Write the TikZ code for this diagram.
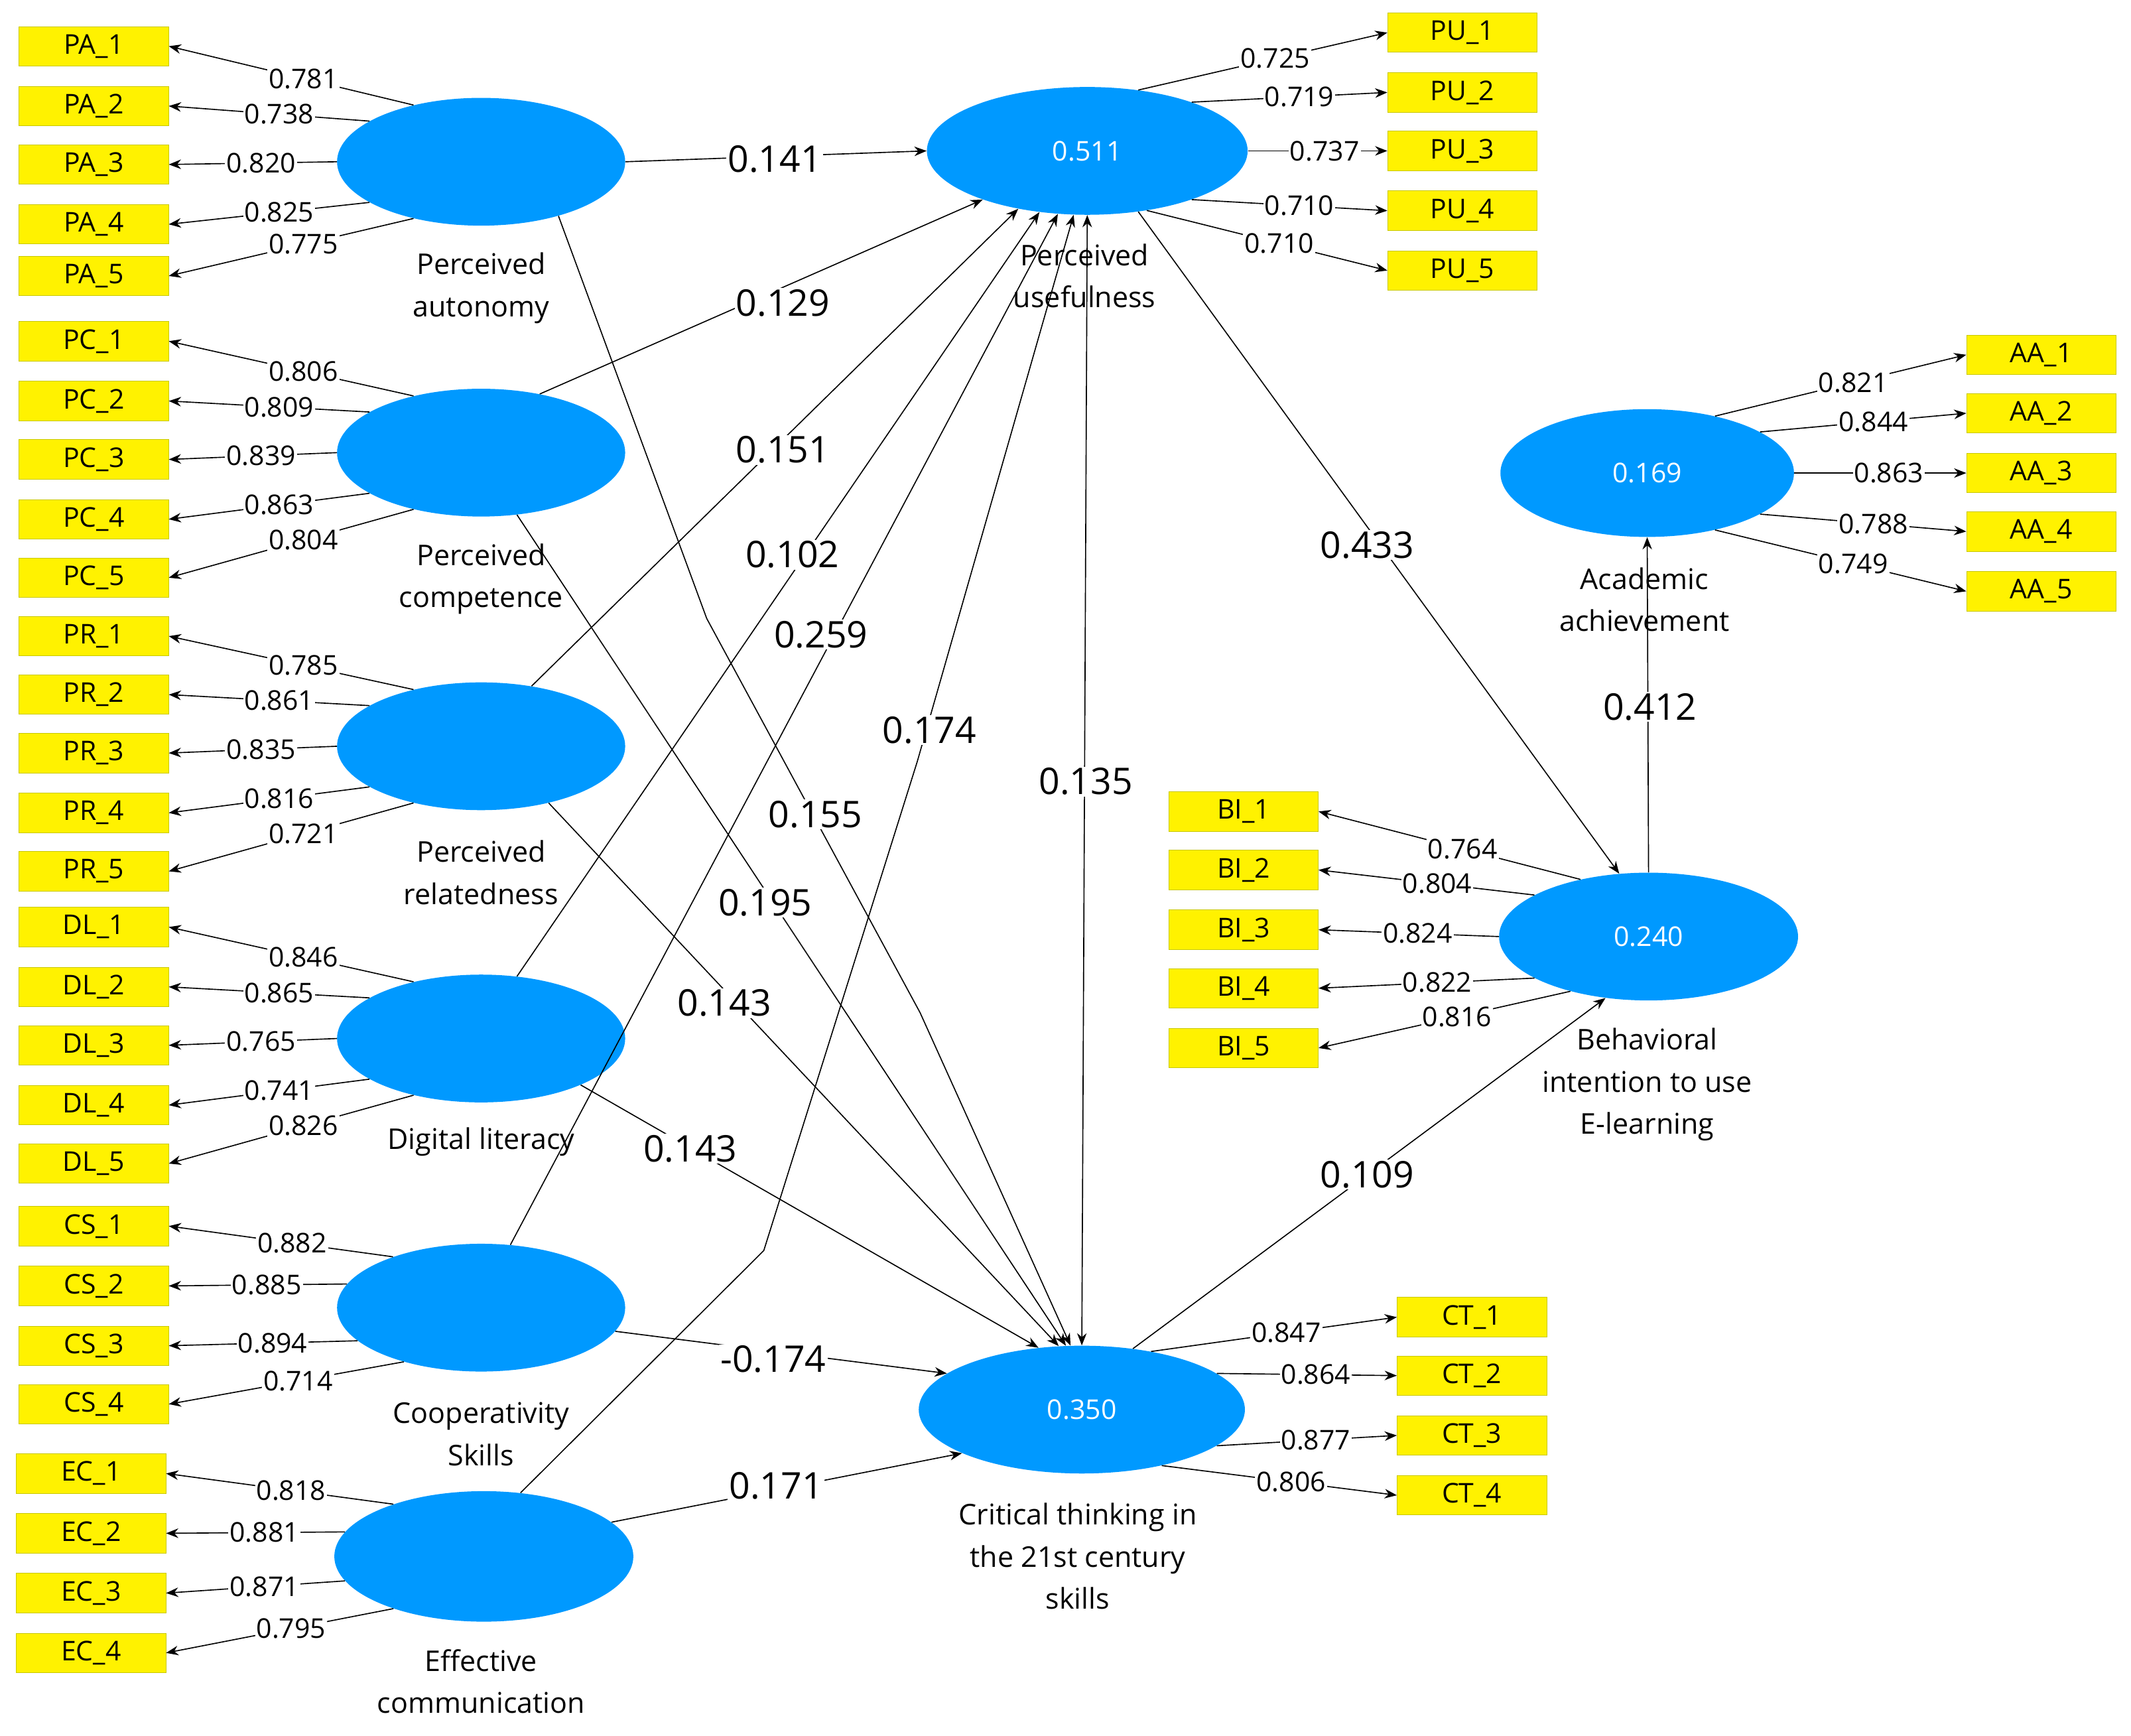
\documentclass[tikz,border=0pt]{standalone}
\usepackage{fontspec}
\setmainfont{Open Sans}
\usetikzlibrary{shapes.geometric,arrows.meta}
\begin{document}
\begin{tikzpicture}[x=1pt,y=-1pt,
  lv/.style={ellipse,fill={rgb,255:red,0;green,153;blue,255},draw=none,text=white,font=\fontsize{20}{24}\selectfont},
  ind/.style={rectangle,fill=yellow,draw={rgb,255:red,200;green,200;blue,0},minimum width=110,minimum height=29,inner sep=0pt,font=\fontsize{20}{24}\selectfont},
  lvcap/.style={align=center,font=\fontsize{21}{31}\selectfont},
  ld/.style={fill=white,inner sep=1pt,font=\fontsize{20}{24}\selectfont},
  pl/.style={fill=white,inner sep=1pt,font=\fontsize{27}{32}\selectfont},
  arr/.style={-{Stealth[length=9pt,width=7pt]},line width=0.8pt}]
\useasboundingbox (0,0) rectangle (1568,1277);
% latent variables
\node[lv,minimum width=212,minimum height=94] (PA) at (354,119) {};
\node[lv,minimum width=212,minimum height=94] (PC) at (354,333) {};
\node[lv,minimum width=212,minimum height=94] (PR) at (354,549) {};
\node[lv,minimum width=212,minimum height=94] (DL) at (354,764) {};
\node[lv,minimum width=212,minimum height=94] (CS) at (354,962) {};
\node[lv,minimum width=220,minimum height=96] (EC) at (356,1145) {};
\node[lv,minimum width=236,minimum height=94] (PU) at (800,111) {0.511};
\node[lv,minimum width=216,minimum height=94] (AA) at (1212,348) {0.169};
\node[lv,minimum width=220,minimum height=94] (BI) at (1213,689) {0.240};
\node[lv,minimum width=240,minimum height=94] (CT) at (796,1037) {0.350};
% captions
\node[lvcap] (cPA) at (354,212) {Perceived\\autonomy};
\node[lvcap] (cPC) at (354,426) {Perceived\\competence};
\node[lvcap] (cPR) at (354,642) {Perceived\\relatedness};
\node[lvcap] (cDL) at (354,840) {Digital literacy};
\node[lvcap] (cCS) at (354,1055) {Cooperativity\\Skills};
\node[lvcap] (cEC) at (354,1237) {Effective\\communication};
\node[lvcap] (cPU) at (798,203) {Perceived\\usefulness};
\node[lvcap] (cAA) at (1210,441) {Academic\\achievement};
\node[lvcap] (cBI) at (1212,798) {Behavioral\\intention to use\\E-learning};
\node[lvcap] (cCT) at (793,1145) {Critical thinking in\\the 21st century\\skills};
% indicators (left)
\foreach \i/\y/\a/\v in {1/34/140/0.781,2/78/160/0.738,3/121/180/0.820,4/165/200/0.825,5/203/220/0.775}{
  \node[ind] (PA\i) at (69,\y) {PA\_\i};
  \draw[arr] (PA.\a) -- node[ld,pos=0.45]{\v} (PA\i.east);}
\foreach \i/\y/\a/\v in {1/251/140/0.806,2/295/160/0.809,3/338/180/0.839,4/382/200/0.863,5/425/220/0.804}{
  \node[ind] (PC\i) at (69,\y) {PC\_\i};
  \draw[arr] (PC.\a) -- node[ld,pos=0.45]{\v} (PC\i.east);}
\foreach \i/\y/\a/\v in {1/468/140/0.785,2/511/160/0.861,3/554/180/0.835,4/598/200/0.816,5/641/220/0.721}{
  \node[ind] (PR\i) at (69,\y) {PR\_\i};
  \draw[arr] (PR.\a) -- node[ld,pos=0.45]{\v} (PR\i.east);}
\foreach \i/\y/\a/\v in {1/682/140/0.846,2/726/160/0.865,3/769/180/0.765,4/813/200/0.741,5/856/220/0.826}{
  \node[ind] (DL\i) at (69,\y) {DL\_\i};
  \draw[arr] (DL.\a) -- node[ld,pos=0.45]{\v} (DL\i.east);}
\foreach \i/\y/\a/\v in {1/902/150/0.882,2/946/170/0.885,3/990/195/0.894,4/1033/215/0.714}{
  \node[ind] (CS\i) at (69,\y) {CS\_\i};
  \draw[arr] (CS.\a) -- node[ld,pos=0.45]{\v} (CS\i.east);}
\foreach \i/\y/\a/\v in {1/1084/150/0.818,2/1128/170/0.881,3/1172/190/0.871,4/1216/210/0.795}{
  \node[ind] (EC\i) at (67,\y) {EC\_\i};
  \draw[arr] (EC.\a) -- node[ld,pos=0.45]{\v} (EC\i.east);}
% indicators (right)
\foreach \i/\y/\a/\v in {1/24/50/0.725,2/68/25/0.719,3/111/0/0.737,4/155/-25/0.710,5/199/-45/0.710}{
  \node[ind] (PU\i) at (1076,\y) {PU\_\i};
  \draw[arr] (PU.\a) -- node[ld,pos=0.55]{\v} (PU\i.west);}
\foreach \i/\y/\a/\v in {1/261/40/0.821,2/304/20/0.844,3/348/0/0.863,4/391/-20/0.788,5/435/-40/0.749}{
  \node[ind] (AA\i) at (1502,\y) {AA\_\i};
  \draw[arr] (AA.\a) -- node[ld,pos=0.55]{\v} (AA\i.west);}
\foreach \i/\y/\a/\v in {1/597/140/0.764,2/640/160/0.804,3/684/180/0.824,4/727/200/0.822,5/771/215/0.816}{
  \node[ind] (BI\i) at (915,\y) {BI\_\i};
  \draw[arr] (BI.\a) -- node[ld,pos=0.45]{\v} (BI\i.east);}
\foreach \i/\y/\a/\v in {1/969/40/0.847,2/1012/15/0.864,3/1056/-15/0.877,4/1100/-35/0.806}{
  \node[ind] (CT\i) at (1083,\y) {CT\_\i};
  \draw[arr] (CT.\a) -- node[ld,pos=0.55]{\v} (CT\i.west);}
% structural paths
\coordinate (k1) at (520,455);
\coordinate (k2) at (677,745);
\coordinate (k3) at (562,920);
\coordinate (k4) at (675,560);
\draw[arr] (PA.east) -- (PU.west);
\draw[arr] (PC.45) -- (PU.205);
\draw[arr] (PR.50) -- (PU.220);
\draw[arr] (DL.60) -- (PU.232);
\draw[arr] (CS.65) -- (PU.245);
\draw[arr] (EC.60) -- (k3) -- (k4) -- (PU.258);
\draw[arr,{Stealth[length=9pt,width=7pt]}-{Stealth[length=9pt,width=7pt]}] (PU.270) -- (CT.90);
\draw[arr] (PA.-35) -- (k1) -- (k2) -- (CT.100);
\draw[arr] (PC.-60) -- (CT.104);
\draw[arr] (PR.-40) -- (CT.110);
\draw[arr] (DL.-25) -- (CT.125);
\draw[arr] (CS.-10) -- (CT.165);
\draw[arr] (EC.15) -- (CT.200);
\draw[arr] (PU.-50) -- (BI.115);
\draw[arr] (CT.50) -- (BI.235);
\draw[arr] (BI.90) -- (AA.270);
% path labels
\node[pl] at (570,117) {0.141};
\node[pl] at (576,223) {0.129};
\node[pl] at (576,331) {0.151};
\node[pl] at (583,408) {0.102};
\node[pl] at (604,467) {0.259};
\node[pl] at (684,537) {0.174};
\node[pl] at (799,575) {0.135};
\node[pl] at (600,599) {0.155};
\node[pl] at (563,664) {0.195};
\node[pl] at (533,738) {0.143};
\node[pl] at (508,845) {0.143};
\node[pl] at (569,1000) {-0.174};
\node[pl] at (571,1093) {0.171};
\node[pl] at (1006,401) {0.433};
\node[pl] at (1006,864) {0.109};
\node[pl] at (1214,520) {0.412};
\end{tikzpicture}
\end{document}
